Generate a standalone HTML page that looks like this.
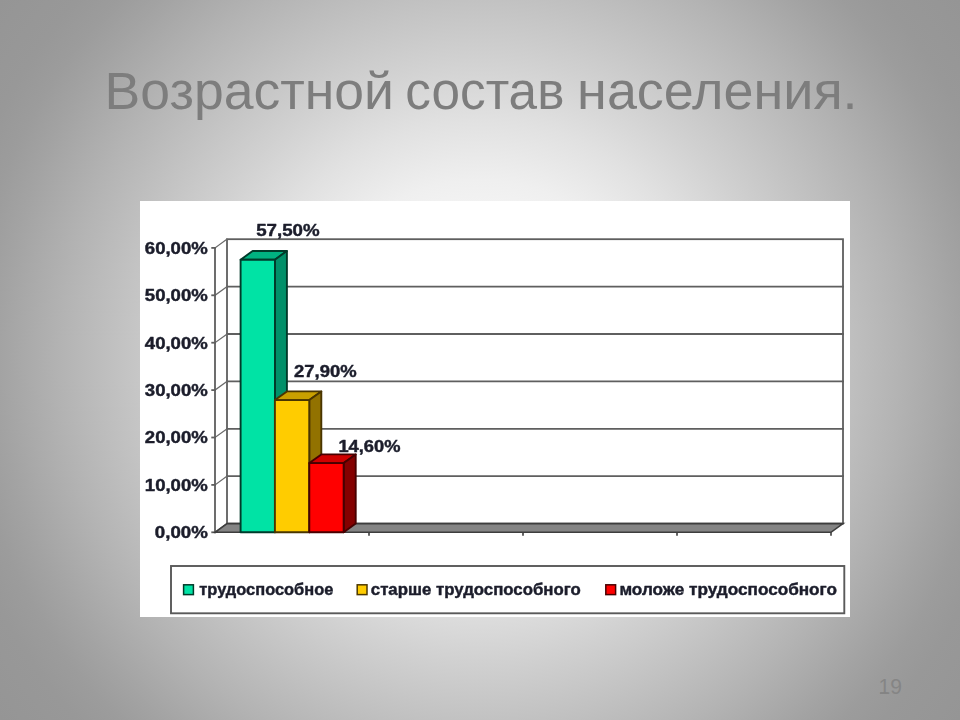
<!DOCTYPE html>
<html lang="ru"><head><meta charset="utf-8"><title>Возрастной состав населения</title>
<style>html,body{margin:0;padding:0;width:960px;height:720px;overflow:hidden;background:#a8a8a8;font-family:"Liberation Sans",sans-serif}svg{display:block;position:absolute;left:0;top:0}text{font-family:"Liberation Sans",sans-serif}</style>
</head><body>
<svg width="960" height="720" viewBox="0 0 960 720">
<defs>
<radialGradient id="bg" gradientUnits="userSpaceOnUse" cx="480" cy="360" r="600"><stop offset="0.0000" stop-color="#fcfcfc"/><stop offset="0.2000" stop-color="#f7f7f7"/><stop offset="0.3000" stop-color="#efefef"/><stop offset="0.4000" stop-color="#e1e1e1"/><stop offset="0.5000" stop-color="#d1d1d1"/><stop offset="0.6000" stop-color="#c2c2c2"/><stop offset="0.7000" stop-color="#b3b3b3"/><stop offset="0.7500" stop-color="#ababab"/><stop offset="0.8000" stop-color="#a3a3a3"/><stop offset="0.8500" stop-color="#9c9c9c"/><stop offset="0.9000" stop-color="#989898"/><stop offset="1.0000" stop-color="#959595"/></radialGradient>
<filter id="soft" x="-2%" y="-2%" width="104%" height="104%"><feGaussianBlur stdDeviation="0.65"/></filter>
</defs>
<rect x="0" y="0" width="960" height="720" fill="url(#bg)"/>
<g font-size="51" fill="#7d7d7d">
<text x="104.6" y="108.8" textLength="289.4" lengthAdjust="spacingAndGlyphs">Возрастной</text>
<text x="405.3" y="108.8" textLength="159.1" lengthAdjust="spacingAndGlyphs">состав</text>
<text x="577.1" y="108.8" textLength="280.5" lengthAdjust="spacingAndGlyphs">населения.</text>
</g>
<text x="878.6" y="694" font-size="21.8" fill="#858585" textLength="23.4" lengthAdjust="spacingAndGlyphs">19</text>
<rect x="880.2" y="692.4" width="7.5" height="1.6" fill="#848484"/>
<g filter="url(#soft)">
<rect x="140" y="201" width="710" height="416" fill="#ffffff"/>
<g stroke="#5e5e5e" stroke-width="1.8" fill="none" stroke-linecap="square">
<rect x="227.0" y="239.2" width="616.0" height="284.4" fill="#ffffff"/>
<line x1="227.0" y1="476.2" x2="843.0" y2="476.2"/>
<line x1="227.0" y1="428.8" x2="843.0" y2="428.8"/>
<line x1="227.0" y1="381.4" x2="843.0" y2="381.4"/>
<line x1="227.0" y1="334.0" x2="843.0" y2="334.0"/>
<line x1="227.0" y1="286.6" x2="843.0" y2="286.6"/>
<line x1="212.2" y1="532.3" x2="215.0" y2="532.3"/>
<line x1="215.0" y1="532.3" x2="227.0" y2="523.6" stroke-width="1.25" stroke="#6a6a6a"/>
<line x1="212.2" y1="484.9" x2="215.0" y2="484.9"/>
<line x1="215.0" y1="484.9" x2="227.0" y2="476.2" stroke-width="1.25" stroke="#6a6a6a"/>
<line x1="212.2" y1="437.5" x2="215.0" y2="437.5"/>
<line x1="215.0" y1="437.5" x2="227.0" y2="428.8" stroke-width="1.25" stroke="#6a6a6a"/>
<line x1="212.2" y1="390.1" x2="215.0" y2="390.1"/>
<line x1="215.0" y1="390.1" x2="227.0" y2="381.4" stroke-width="1.25" stroke="#6a6a6a"/>
<line x1="212.2" y1="342.7" x2="215.0" y2="342.7"/>
<line x1="215.0" y1="342.7" x2="227.0" y2="334.0" stroke-width="1.25" stroke="#6a6a6a"/>
<line x1="212.2" y1="295.3" x2="215.0" y2="295.3"/>
<line x1="215.0" y1="295.3" x2="227.0" y2="286.6" stroke-width="1.25" stroke="#6a6a6a"/>
<line x1="212.2" y1="247.9" x2="215.0" y2="247.9"/>
<line x1="215.0" y1="247.9" x2="227.0" y2="239.2" stroke-width="1.25" stroke="#6a6a6a"/>
<line x1="215.0" y1="247.9" x2="215.0" y2="532.3"/>
</g>
<polygon points="215.0,532.3 227.0,523.5999999999999 843.0,523.5999999999999 831.0,532.3" fill="#848484" stroke="#3c3c3c" stroke-width="1.6" stroke-linejoin="miter"/>
<g stroke="#3c3c3c" stroke-width="1.6">
<line x1="369.0" y1="532.3" x2="369.0" y2="535.6999999999999"/>
<line x1="523.0" y1="532.3" x2="523.0" y2="535.6999999999999"/>
<line x1="677.0" y1="532.3" x2="677.0" y2="535.6999999999999"/>
<line x1="831.0" y1="532.3" x2="831.0" y2="535.6999999999999"/>
</g>
<g stroke="#003a2a" stroke-width="1.9" stroke-linejoin="round">
<polygon points="240.6,259.7 252.6,251.0 286.9,251.0 274.9,259.7" fill="#00b281"/>
<polygon points="274.9,259.7 286.9,251.0 286.9,523.6 274.9,532.3" fill="#009069"/>
<rect x="240.6" y="259.7" width="34.35" height="272.6" fill="#00e3a5"/>
</g>
<g stroke="#4a3500" stroke-width="1.9" stroke-linejoin="round">
<polygon points="274.9,400.1 286.9,391.4 321.3,391.4 309.3,400.1" fill="#c9a000"/>
<polygon points="309.3,400.1 321.3,391.4 321.3,523.6 309.3,532.3" fill="#927200"/>
<rect x="274.9" y="400.1" width="34.35" height="132.2" fill="#ffcc00"/>
</g>
<g stroke="#470000" stroke-width="1.9" stroke-linejoin="round">
<polygon points="309.3,463.1 321.3,454.4 355.7,454.4 343.7,463.1" fill="#cf0000"/>
<polygon points="343.7,463.1 355.7,454.4 355.7,523.6 343.7,532.3" fill="#840000"/>
<rect x="309.3" y="463.1" width="34.35" height="69.2" fill="#ff0000"/>
</g>
<g fill="#1b1e2c" stroke="#1b1e2c" stroke-width="0.45" stroke-linejoin="round" font-weight="bold" font-size="16.6">
<text x="154.8" y="538.1" textLength="53.0" lengthAdjust="spacingAndGlyphs">0,00%</text>
<text x="144.8" y="490.7" textLength="63.0" lengthAdjust="spacingAndGlyphs">10,00%</text>
<text x="144.8" y="443.3" textLength="63.0" lengthAdjust="spacingAndGlyphs">20,00%</text>
<text x="144.8" y="395.9" textLength="63.0" lengthAdjust="spacingAndGlyphs">30,00%</text>
<text x="144.8" y="348.5" textLength="63.0" lengthAdjust="spacingAndGlyphs">40,00%</text>
<text x="144.8" y="301.1" textLength="63.0" lengthAdjust="spacingAndGlyphs">50,00%</text>
<text x="144.8" y="253.7" textLength="63.0" lengthAdjust="spacingAndGlyphs">60,00%</text>
<text x="256.2" y="235.5" textLength="63.4" lengthAdjust="spacingAndGlyphs">57,50%</text>
<text x="294" y="376.5" textLength="62.6" lengthAdjust="spacingAndGlyphs">27,90%</text>
<text x="338.4" y="452.1" textLength="62" lengthAdjust="spacingAndGlyphs">14,60%</text>
<text x="199.3" y="594.6" textLength="134" lengthAdjust="spacingAndGlyphs">трудоспособное</text>
<text x="370.8" y="594.6" textLength="210" lengthAdjust="spacingAndGlyphs">старше трудоспособного</text>
<text x="619.4" y="594.6" textLength="217.6" lengthAdjust="spacingAndGlyphs">моложе трудоспособного</text>
</g>
<rect x="171" y="566" width="673.3" height="47.3" fill="none" stroke="#5a5a5a" stroke-width="1.9"/>
<rect x="183.6" y="584.8" width="9.8" height="9.8" fill="#00e3a5" stroke="#003a2a" stroke-width="1.5"/>
<rect x="357.2" y="584.8" width="9.8" height="9.8" fill="#ffcc00" stroke="#4d3800" stroke-width="1.5"/>
<rect x="605.8" y="584.8" width="9.8" height="9.8" fill="#ff0000" stroke="#4a0000" stroke-width="1.5"/>
</g>
</svg>
</body></html>
